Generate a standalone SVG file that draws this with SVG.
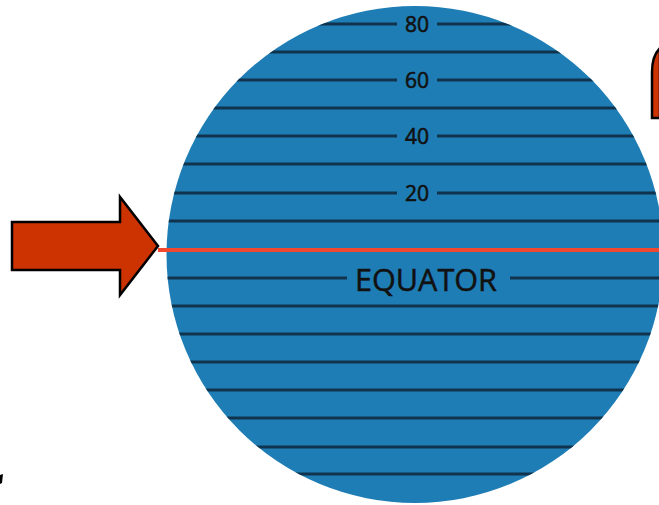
<svg xmlns="http://www.w3.org/2000/svg" width="659" height="505" viewBox="0 0 659 505">
<style>
.lat{stroke:#10344d;stroke-width:3;fill:none}
.num{font-family:"Open Sans","Liberation Sans",sans-serif;font-size:21px;fill:#111;stroke:#111;stroke-width:0.6;text-anchor:middle}
.eq{font-family:"Open Sans","Liberation Sans",sans-serif;font-size:31px;fill:#111;stroke:#111;stroke-width:0.5;text-anchor:middle}
.arrow{fill:#cc3300;stroke:#000;stroke-width:2.5;stroke-linejoin:miter}
</style>
<defs>
<clipPath id="globeClip"><circle cx="415" cy="254.5" r="248.5"/></clipPath>
</defs>
<rect width="659" height="505" fill="#fff"/>
<g id="globe">
<circle cx="415" cy="254.5" r="248.5" fill="#1f7db5"/>
<g clip-path="url(#globeClip)" class="lat">
<path d="M160 24H397M437 24H670"/>
<path d="M160 52H670"/>
<path d="M160 80H397M437 80H670"/>
<path d="M160 108H670"/>
<path d="M160 136H397M437 136H670"/>
<path d="M160 164H670"/>
<path d="M160 193H397M437 193H670"/>
<path d="M160 221H670"/>
<path d="M160 250H670"/>
<path d="M160 278H347M510 278H670"/>
<path d="M160 306H670"/>
<path d="M160 334H670"/>
<path d="M160 362H670"/>
<path d="M160 390H670"/>
<path d="M160 418H670"/>
<path d="M160 447H670"/>
<path d="M160 474H670"/>
</g>
<text class="num" x="417" y="32">80</text>
<text class="num" x="417" y="88">60</text>
<text class="num" x="417" y="144">40</text>
<text class="num" x="417" y="201">20</text>
<text class="eq" x="426" y="291" textLength="142" lengthAdjust="spacingAndGlyphs">EQUATOR</text>
</g>
<g id="equator-line">
<line x1="158" y1="250" x2="659" y2="250" stroke="#f2482f" stroke-width="4"/>
</g>
<g id="arrow-left">
<polygon class="arrow" points="12,222 120,222 120,197 158,246 120,295 120,270 12,270"/>
</g>
<g id="arrow-topright">
<path class="arrow" d="M652 118V72Q652 56 660 48V118Z"/>
</g>
<g id="mark-bottomleft">
<polygon points="0,475 3,474 2,483 0,484" fill="#000"/>
</g>
</svg>
